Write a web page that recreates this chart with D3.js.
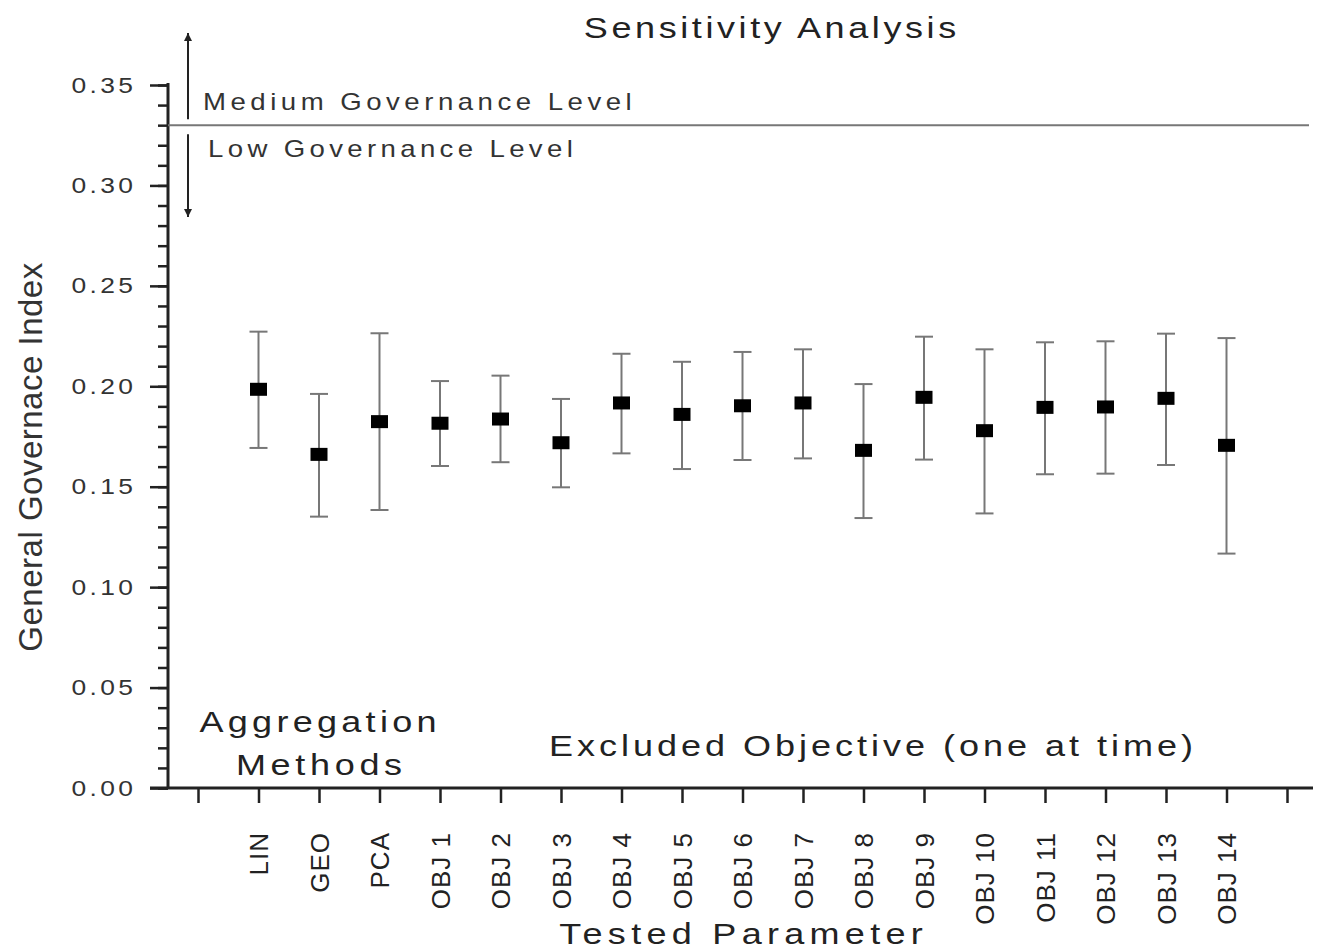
<!DOCTYPE html>
<html>
<head>
<meta charset="utf-8">
<script src="https://cdn.jsdelivr.net/npm/d3@7"></script>
<style>
  body { margin: 0; background: #fff; }
  svg { display: block; font-family: "Liberation Sans", Arial, sans-serif; }
</style>
</head>
<body>
<svg id="chart" width="1322" height="952"></svg>
<script>
// categories on the x axis (index 0 and 18 are empty slots)
const categories = ["LIN", "GEO", "PCA", "OBJ 1", "OBJ 2", "OBJ 3", "OBJ 4", "OBJ 5", "OBJ 6",
  "OBJ 7", "OBJ 8", "OBJ 9", "OBJ 10", "OBJ 11", "OBJ 12", "OBJ 13", "OBJ 14"];
const means = [0.1985, 0.1661, 0.1824, 0.1816, 0.1837, 0.1719, 0.1917, 0.1860, 0.1903,
  0.1917, 0.1681, 0.1945, 0.1779, 0.1895, 0.1897, 0.1940, 0.1706];
const upper = [0.2272, 0.1962, 0.2264, 0.2026, 0.2053, 0.1937, 0.2162, 0.2122, 0.2171,
  0.2184, 0.2011, 0.2247, 0.2184, 0.2219, 0.2224, 0.2262, 0.2240];
const lower = [0.1693, 0.1351, 0.1384, 0.1603, 0.1622, 0.1497, 0.1666, 0.1588, 0.1633,
  0.1641, 0.1344, 0.1635, 0.1367, 0.1562, 0.1565, 0.1608, 0.1167];
const yTicks = [0, 0.05, 0.10, 0.15, 0.20, 0.25, 0.30, 0.35];
const threshold = 0.33;

const svg = d3.select("#chart");
const ink = "#222";
const WIDE = 1.2; // the original font is wider than Liberation Sans

const x = d3.scaleLinear().domain([0, categories.length + 1]).range([198, 1287]);
const y = d3.scaleLinear().domain([0, 0.35]).range([788, 85]);

// wide, spaced-out label; letter-spacing adds a trailing gap, so shift by half of it
const label = (tx, ty, size, spacing, txt, anchor = "middle") => svg.append("g")
  .attr("transform", `translate(${tx},${ty}) scale(${WIDE},1)`)
  .append("text")
  .attr("x", anchor === "middle" ? spacing / 2 / WIDE : 0)
  .attr("text-anchor", anchor)
  .attr("font-size", size).attr("letter-spacing", spacing / WIDE)
  .attr("fill", ink)
  .text(txt);

// Title
label(770, 38, 30, 3.6, "Sensitivity Analysis");

// Y axis: minor ticks every 0.01
const yMinor = svg.append("g").attr("transform", "translate(168,0)")
  .call(d3.axisLeft(y).tickValues(d3.range(0, 0.3501, 0.01)).tickSize(10).tickFormat(""));
yMinor.select(".domain").remove();
yMinor.selectAll("line").attr("stroke", ink).attr("stroke-width", 2.5);

const yAxis = svg.append("g").attr("transform", "translate(168,0)")
  .call(d3.axisLeft(y).tickValues(yTicks).tickSize(18).tickFormat(d3.format(".2f")));
yAxis.select(".domain").attr("stroke", ink).attr("stroke-width", 3)
  .attr("d", `M0,${y(0.35) - 2}V${y(0) + 1}`);
yAxis.selectAll("line").attr("stroke", ink).attr("stroke-width", 2.5);
yAxis.selectAll("text")
  .attr("font-size", 22).attr("letter-spacing", 3.4 / WIDE).attr("fill", "#333")
  .attr("font-family", "Liberation Sans, Arial, sans-serif")
  .attr("transform", `scale(${WIDE},1)`)
  .attr("x", -31.6 / WIDE);

// X axis
const xAxis = svg.append("g").attr("transform", "translate(0,788)")
  .call(d3.axisBottom(x).tickValues(d3.range(0, categories.length + 2)).tickSize(15)
    .tickFormat(i => categories[i - 1] || ""));
xAxis.select(".domain").attr("stroke", ink).attr("stroke-width", 3)
  .attr("d", "M150,0H1313");
xAxis.selectAll("line").attr("stroke", ink).attr("stroke-width", 2.5);
xAxis.selectAll("text")
  .attr("font-size", 26).attr("letter-spacing", 1).attr("fill", ink)
  .attr("font-family", "Liberation Sans, Arial, sans-serif")
  .attr("text-anchor", "end")
  .attr("transform", "rotate(-90)")
  .attr("x", -44).attr("y", 0).attr("dy", "0.36em");

// Axis titles
svg.append("text")
  .attr("transform", "translate(42,457) rotate(-90)")
  .attr("text-anchor", "middle")
  .attr("font-size", 33).attr("letter-spacing", 0.5).attr("fill", "#333")
  .text("General Governace Index");

label(741, 944, 30, 5.3, "Tested Parameter");

// Governance threshold line and labels
svg.append("line")
  .attr("x1", 168).attr("x2", 1309)
  .attr("y1", y(threshold)).attr("y2", y(threshold))
  .attr("stroke", "#777").attr("stroke-width", 2);

const defs = svg.append("defs");
defs.append("marker")
  .attr("id", "head").attr("viewBox", "0 0 10 10")
  .attr("refX", 10).attr("refY", 5)
  .attr("markerWidth", 4).attr("markerHeight", 6)
  .attr("markerUnits", "strokeWidth")
  .attr("orient", "auto")
  .append("path").attr("d", "M0,0L10,5L0,10Z").attr("fill", ink);

svg.append("line")
  .attr("x1", 188).attr("x2", 188).attr("y1", y(threshold) - 6).attr("y2", 33)
  .attr("stroke", ink).attr("stroke-width", 2).attr("marker-end", "url(#head)");
svg.append("line")
  .attr("x1", 188).attr("x2", 188).attr("y1", y(threshold) + 9).attr("y2", 217)
  .attr("stroke", ink).attr("stroke-width", 2).attr("marker-end", "url(#head)");

label(203, 110, 23, 4.5, "Medium Governance Level", "start").attr("fill", "#333");
label(208, 157, 23, 4.35, "Low Governance Level", "start").attr("fill", "#333");

// Group labels
label(318, 732, 30, 4.3, "Aggregation");
label(319, 775, 30, 4.7, "Methods");
label(871, 756, 30, 4, "Excluded Objective (one at time)");

// Error bars
const rows = categories.map((c, i) => ({ i: i + 1, m: means[i], hi: upper[i], lo: lower[i] }));
const bars = svg.append("g").selectAll("g").data(rows).enter().append("g")
  .attr("stroke", "#777").attr("stroke-width", 2);
bars.append("line")
  .attr("x1", d => x(d.i)).attr("x2", d => x(d.i))
  .attr("y1", d => y(d.hi)).attr("y2", d => y(d.lo));
bars.append("line")
  .attr("x1", d => x(d.i) - 9).attr("x2", d => x(d.i) + 9)
  .attr("y1", d => y(d.hi)).attr("y2", d => y(d.hi));
bars.append("line")
  .attr("x1", d => x(d.i) - 9).attr("x2", d => x(d.i) + 9)
  .attr("y1", d => y(d.lo)).attr("y2", d => y(d.lo));

// Mean markers
svg.append("g").selectAll("rect").data(rows).enter().append("rect")
  .attr("x", d => x(d.i) - 8.5).attr("y", d => y(d.m) - 6.5)
  .attr("width", 17).attr("height", 13)
  .attr("fill", "#000");
</script>
</body>
</html>
